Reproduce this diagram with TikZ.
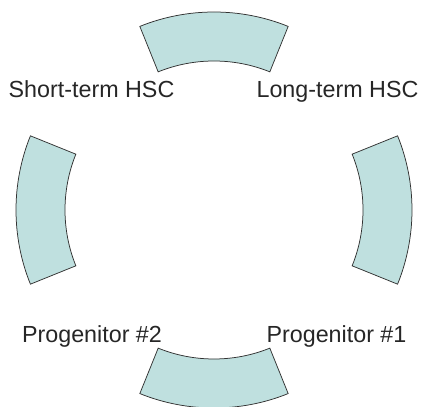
\documentclass[tikz,border=0pt]{standalone}
\usepackage{fontspec}
\setmainfont{Liberation Sans}
\usetikzlibrary{calc}
\definecolor{secfill}{RGB}{191,224,223}
\definecolor{secline}{RGB}{50,50,50}
\tikzset{
  sector/.style={fill=secfill, draw=secline, line width=0.75pt, line join=miter},
  lbl/.style={font=\fontsize{23.3}{27}\selectfont, text=black!85, inner sep=0pt, anchor=base}
}
\begin{document}
\begin{tikzpicture}[x=1pt,y=1pt]
\useasboundingbox (0,0) rectangle (421,407);
\coordinate (c) at (214,197);
\def\rin{149}
\def\rout{198}
\foreach \a/\b/\nm in {68/112/top, -22/22/right, 248/292/bottom, 158/202/left}{
  \draw[sector] ($(c)+(\a:\rout)$) arc[start angle=\a, end angle=\b, radius=\rout]
     -- ($(c)+(\b:\rin)$) arc[start angle=\b, end angle=\a, radius=\rin] -- cycle;
}
\node[lbl] (sthsc) at (91.5,309) {Short-term HSC};
\node[lbl] (lthsc) at (337.5,309) {Long-term HSC};
\node[lbl] (prog2) at (92,64) {Progenitor \#2};
\node[lbl] (prog1) at (336.5,64) {Progenitor \#1};
\end{tikzpicture}
\end{document}
